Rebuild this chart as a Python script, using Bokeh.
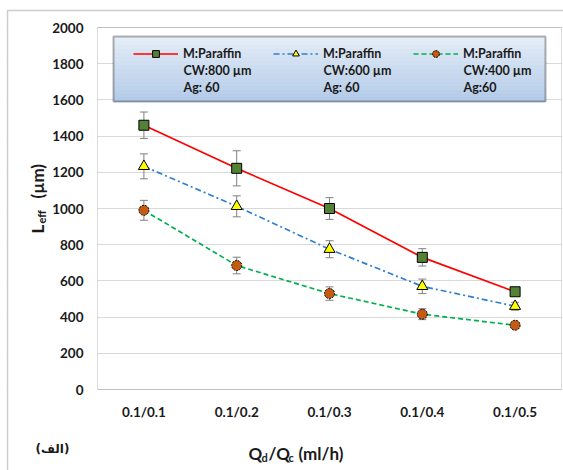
from bokeh.plotting import figure
from bokeh.models import (ColumnDataSource, Whisker, TeeHead, Legend, LegendItem,
                          BoxAnnotation, Label, FixedTicker, Range1d)
from bokeh.embed import file_html
from bokeh.resources import INLINE
import math

# ---------------- data ----------------
categories = ["0.1/0.1", "0.1/0.2", "0.1/0.3", "0.1/0.4", "0.1/0.5"]
cw800 = [1460, 1222, 1000, 730, 540]
err800 = [73, 97, 60, 48, 20]
cw600 = [1233, 1012, 775, 570, 460]
err600 = [69, 58, 47, 40, 22]
cw400 = [990, 685, 530, 416, 355]
err400 = [55, 46, 37, 30, 18]
y_ticks = [0, 200, 400, 600, 800, 1000, 1200, 1400, 1600, 1800, 2000]
legend_material = ["M:Paraffin", "M:Paraffin", "M:Paraffin"]
legend_width = ["CW:800 µm", "CW:600 µm", "CW:400 µm"]
legend_ag = ["Ag: 60", "Ag: 60", "Ag:60"]

FONT = "Lato"
W, H = 563, 470
# plot-area placement on the canvas (pixels)
PL, PR, PT, PB = 97, 561, 27, 389
n = len(categories)
xpos = list(range(1, n + 1))
x_lo, x_hi = 0.5, n + 0.5
y_lo, y_hi = y_ticks[0], y_ticks[-1]
xs = (x_hi - x_lo) / (PR - PL)
ys = (y_hi - y_lo) / (PB - PT)
x_range = Range1d(x_lo - PL * xs, x_hi + (W - PR) * xs)
y_range = Range1d(y_lo - (H - PB) * ys, y_hi + PT * ys)

def sx(x):
    return x

def sy(y):
    return H - y

p = figure(width=W, height=H, x_range=x_range, y_range=y_range,
           output_backend="svg", toolbar_location=None, min_border=0)
p.title.visible = False
p.background_fill_color = "white"
p.border_fill_color = "white"
p.outline_line_color = None

p.xgrid.grid_line_color = None
p.ygrid.grid_line_color = "#d9d9d9"
p.ygrid.grid_line_width = 1
p.ygrid.ticker = FixedTicker(ticks=y_ticks)

p.yaxis.ticker = FixedTicker(ticks=y_ticks)
p.xaxis.ticker = FixedTicker(ticks=xpos)
p.xaxis.major_label_overrides = {i: c for i, c in zip(xpos, categories)}
p.xaxis.fixed_location = y_lo
p.yaxis.fixed_location = x_lo
for ax in (p.xaxis[0], p.yaxis[0]):
    ax.axis_line_color = None
    ax.major_tick_line_color = None
    ax.minor_tick_line_color = None
    ax.major_tick_in = 0
    ax.major_tick_out = 0
    ax.major_label_text_font = FONT
    ax.major_label_text_font_style = "bold"
    ax.major_label_text_font_size = "13.5px"
    ax.major_label_text_color = "#1a1a1a"
p.yaxis.major_label_standoff = 14
p.xaxis.major_label_standoff = 14

# white covers so grid lines stay inside the plot area
p.add_layout(BoxAnnotation(right=x_lo, fill_color="white", fill_alpha=1,
                           line_color=None, level="underlay"))
p.add_layout(BoxAnnotation(left=x_hi, fill_color="white", fill_alpha=1,
                           line_color=None, level="underlay"))
# plot-area border
p.add_layout(BoxAnnotation(left=x_lo, right=x_hi, bottom=y_lo, top=y_hi,
                           fill_alpha=0, line_color="#8c8c8c", line_width=1,
                           level="underlay"))

series = [
    (cw800, err800, "#ff0000", None, "square", "#548235", 10, None),
    (cw600, err600, "#2f7fd0", "6 3 2 3", "triangle", "#ffff00", 11, None),
    (cw400, err400, "#00b050", "5 3", "circle", "#c55a11", 10, "2 1"),
]

items = []
for (vals, errs, lc, dash, mk, fc, ms, mdash), lab in zip(series, legend_material):
    src = ColumnDataSource(dict(x=xpos, y=vals,
                                up=[v + e for v, e in zip(vals, errs)],
                                lo=[v - e for v, e in zip(vals, errs)]))
    kw = dict(line_color=lc, line_width=1.7)
    if dash:
        kw["line_dash"] = dash
    lr = p.line("x", "y", source=src, **kw)
    w = Whisker(base="x", upper="up", lower="lo", source=src,
                line_color="#808080", line_width=1, level="underlay",
                upper_head=TeeHead(size=8, line_color="#808080", line_width=1),
                lower_head=TeeHead(size=8, line_color="#808080", line_width=1))
    p.add_layout(w)
    skw = dict(marker=mk, size=ms, fill_color=fc, line_color="black", line_width=1)
    if mdash:
        skw["line_dash"] = mdash
    sr = p.scatter("x", "y", source=src, **skw)
    items.append(LegendItem(label=lab, renderers=[lr, sr]))

# legend background (gradient) and border
bx_l, bx_r, bx_t, bx_b = 113, 545, 36, 101
nb = 16
top_c = (0xe4, 0xec, 0xf7)
bot_c = (0xb3, 0xcb, 0xe8)
for i in range(nb):
    t = i / (nb - 1)
    c = tuple(int(round(top_c[k] + (bot_c[k] - top_c[k]) * t)) for k in range(3))
    y0 = bx_t + (bx_b - bx_t) * i / nb
    y1 = bx_t + (bx_b - bx_t) * (i + 1) / nb
    p.add_layout(BoxAnnotation(left=sx(bx_l), right=sx(bx_r), top=sy(y0), bottom=sy(y1) - 0.5,
                               left_units="screen", right_units="screen",
                               top_units="screen", bottom_units="screen",
                               fill_color="#%02x%02x%02x" % c, fill_alpha=1,
                               line_color=None))
p.add_layout(BoxAnnotation(left=sx(bx_l), right=sx(bx_r), top=sy(bx_t), bottom=sy(bx_b),
                           left_units="screen", right_units="screen",
                           top_units="screen", bottom_units="screen",
                           fill_alpha=0, line_color="black", line_width=2))

legend = Legend(items=items, orientation="horizontal",
                location=(sx(133), sy(61.5)), padding=0, margin=0, spacing=5,
                glyph_width=45, glyph_height=17, label_standoff=5, label_width=85,
                label_height=17,
                label_text_font=FONT, label_text_font_style="bold",
                label_text_font_size="12.5px", label_text_color="#1a1a1a",
                background_fill_alpha=0, border_line_color=None)
p.add_layout(legend, "center")

def lab(text, x, y, size, angle=0.0, align="left", font=FONT, baseline="middle"):
    p.add_layout(Label(x=sx(x), y=sy(y), x_units="screen", y_units="screen",
                       text=text, angle=angle, text_align=align, text_baseline=baseline,
                       text_font=font, text_font_style="bold",
                       text_font_size=size, text_color="#1a1a1a"))

# second and third legend text lines
for k in range(3):
    lab(legend_width[k], 183 + 140 * k, 69.5, "12.5px")
    lab(legend_ag[k], 183 + 140 * k, 86.5, "12.5px")

# outer border (left and top edges)
p.add_layout(BoxAnnotation(left=sx(7), right=sx(640), top=sy(10), bottom=sy(560),
                           left_units="screen", right_units="screen",
                           top_units="screen", bottom_units="screen",
                           fill_alpha=0, line_color="#595959", line_width=1.5))

# y axis title: L_eff (µm)
lab("L", 37, 233, "17px", angle=math.pi / 2, baseline="alphabetic")
lab("eff", 41, 223, "11px", angle=math.pi / 2, baseline="alphabetic")
lab("(µm)", 37, 198, "17px", angle=math.pi / 2, baseline="alphabetic")

# x axis title: Q_d/Q_c (ml/h)
lab("Q", 248, 453, "17px", baseline="alphabetic")
lab("d", 261, 457, "11px", baseline="alphabetic")
lab("/Q", 268, 453, "17px", baseline="alphabetic")
lab("c", 288, 457, "11px", baseline="alphabetic")
lab("(ml/h)", 298, 453, "17px", baseline="alphabetic")

# panel tag
lab("(الف)", 52, 448, "12px", align="center", font="DejaVu Sans")

open("out.html", "w").write(file_html(p, INLINE))
